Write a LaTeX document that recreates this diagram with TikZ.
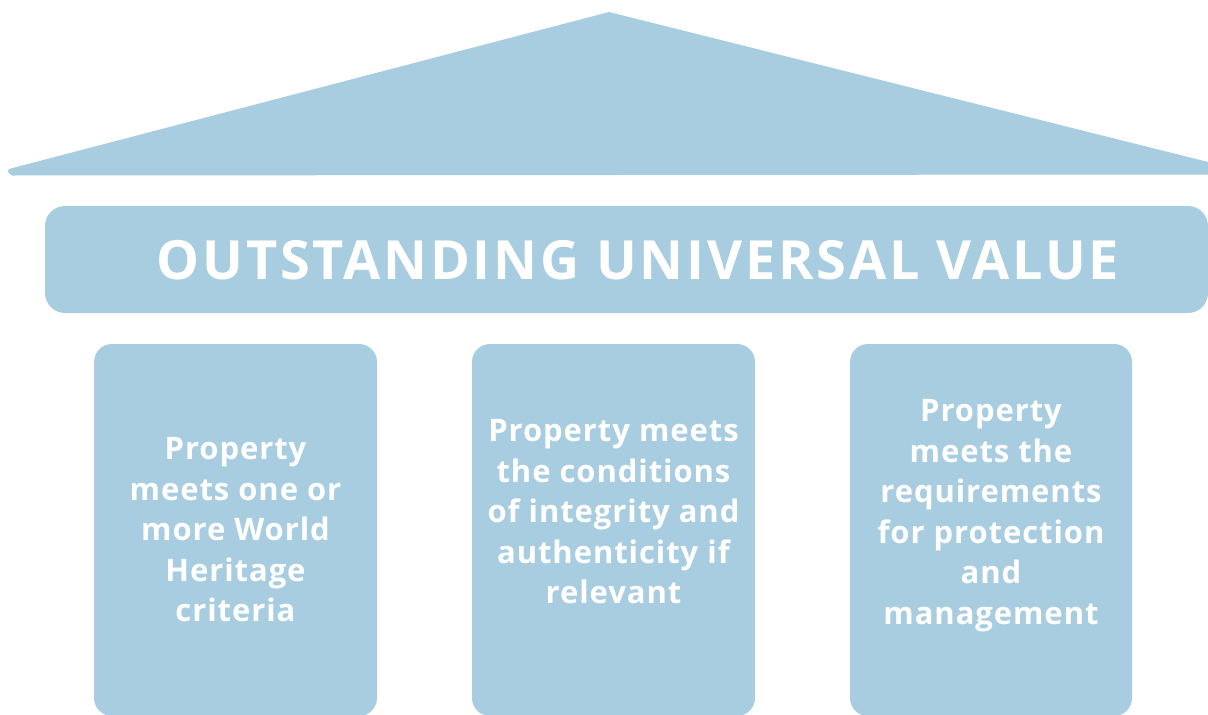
\documentclass[tikz,border=0pt]{standalone}
\usepackage{fontspec}
\setmainfont{Open Sans}
\definecolor{pale}{RGB}{168,205,224}
\tikzset{
  part/.style={fill=pale, draw=none},
  pillar/.style={part, rounded corners=18pt},
  pillartext/.style={text=white, align=center, inner sep=0pt, anchor=north,
    font=\bfseries\fontsize{31}{40.5}\selectfont\addfontfeatures{LetterSpace=3}},
  titletext/.style={text=white, inner sep=0pt,
    font=\bfseries\fontsize{54}{60}\selectfont\addfontfeatures{LetterSpace=5.2}}
}
\begin{document}
\begin{tikzpicture}[x=1pt,y=-1pt]
\useasboundingbox (0,0) rectangle (1208,715);
\clip (0,0) rectangle (1208,715);
% roof
\fill[part] (609,12) -- (1216,164) -- (1216,174.5) -- (12,175.5)
   [rounded corners=5pt] -- (5,170) [sharp corners] -- cycle;
% banner
\path[pillar, rounded corners=20pt] (45,206) rectangle (1208,313);
\node[titletext] (title) at (638,260) {OUTSTANDING UNIVERSAL VALUE};
% pillars
\path[pillar] (94,344) rectangle (377,716);
\path[pillar] (472,344) rectangle (755,716);
\path[pillar] (850,344) rectangle (1132,716);
\node[pillartext] (t1) at (235.5,437.5) {Property\\meets one or\\more World\\Heritage\\criteria};
\node[pillartext] (t2) at (613.5,419.5) {Property meets\\the conditions\\of integrity and\\authenticity if\\relevant};
\node[pillartext] (t3) at (991,399.5) {Property\\meets the\\requirements\\for protection\\and\\management};
\end{tikzpicture}
\end{document}
